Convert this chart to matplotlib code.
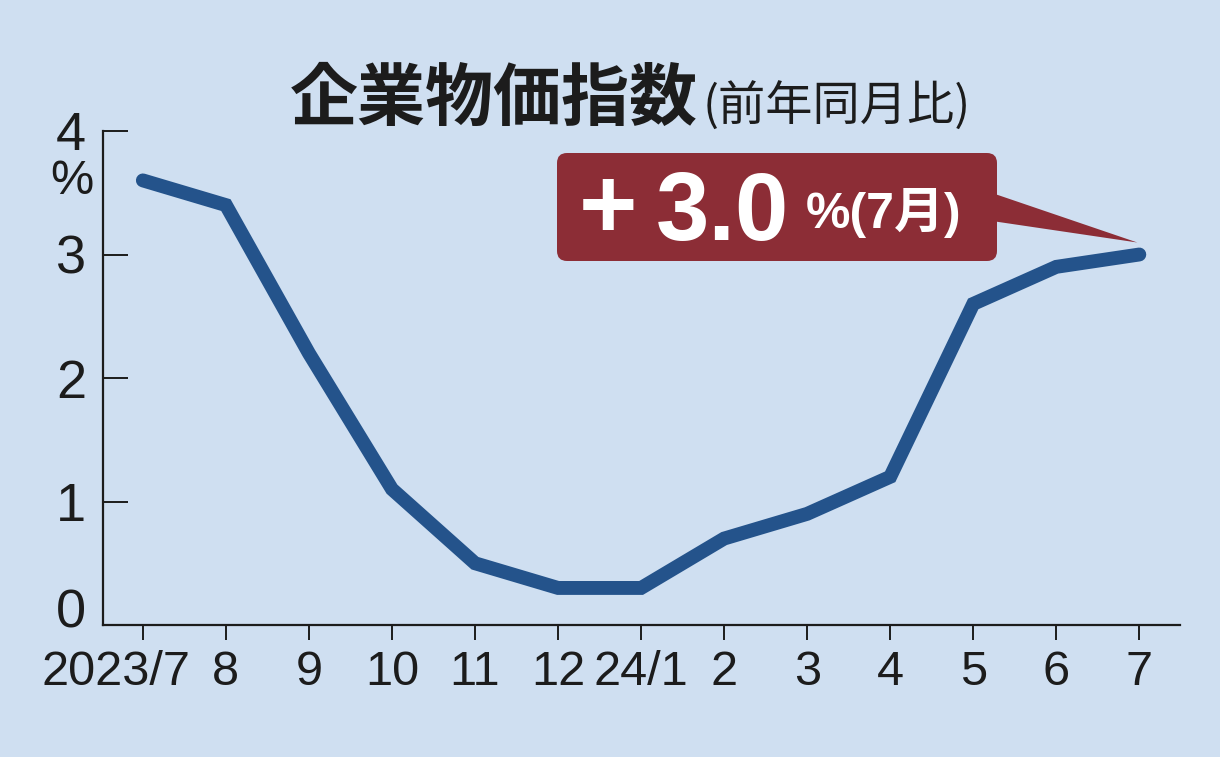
import matplotlib
matplotlib.use('Agg')
import matplotlib.pyplot as plt
from matplotlib.patches import FancyBboxPatch, Polygon
from matplotlib.transforms import IdentityTransform, ScaledTranslation

# 企業物価指数（前年同月比, %）
months = ['2023/7', '8', '9', '10', '11', '12', '24/1', '2', '3', '4', '5', '6', '7']
values = [3.6, 3.4, 2.2, 1.1, 0.5, 0.3, 0.3, 0.7, 0.9, 1.2, 2.6, 2.9, 3.0]
yticks = [0, 1, 2, 3, 4]
callout_sign = '+'
callout_value = '3.0'
callout_sub = '%(7月)'

BG = '#cfdff1'
LINE = '#24538b'
BOX = '#8c2d36'
INK = '#1c1c1c'

W, H = 1220, 757
plt.rcParams['font.family'] = ['Liberation Sans', 'Noto Sans CJK JP', 'DejaVu Sans']

fig = plt.figure(figsize=(W / 100, H / 100), dpi=100, facecolor=BG)
ax = fig.add_axes([103 / W, 132 / H, 1077 / W, 494 / H])
ax.set_facecolor(BG)

# 折れ線
x = list(range(len(values)))
ax.plot(x, values, color=LINE, lw=10, solid_capstyle='round',
        solid_joinstyle='miter', clip_on=False, zorder=3)

ax.set_xlim(-0.48, 12.49)
ax.set_ylim(0, 4)

for side in ['top', 'right']:
    ax.spines[side].set_visible(False)
for side in ['left', 'bottom']:
    ax.spines[side].set_color(INK)
    ax.spines[side].set_linewidth(1.6)

ax.set_xticks(x)
ax.set_xticklabels(months)
ax.set_yticks(yticks)
ax.set_yticklabels([str(v) for v in yticks])
ax.tick_params(axis='x', direction='out', length=11, width=1.4, color=INK,
               labelsize=35, labelcolor=INK, pad=7)
ax.tick_params(axis='y', direction='in', length=18, width=1.4, color=INK,
               labelsize=39, labelcolor=INK, pad=12)

# 単位
fig.text(72 / W, 1 - 182 / H, '%', fontsize=35, color=INK, ha='center', va='center')

# タイトル
fig.text(290 / W, 1 - 100 / H, '企業物価指数', fontsize=49, fontweight='bold',
         family=['Noto Sans CJK JP'], color=INK, ha='left', va='center')
fig.text(703 / W, 1 - 107 / H, '(前年同月比)', fontsize=34,
         family=['Noto Sans CJK JP'], color=INK, ha='left', va='center')

# 吹き出し
fig.canvas.draw()
tx, ty = ax.transData.transform((x[-1], values[-1]))
tip = (tx - 2, ty + 12)
box_l, box_r, box_t, box_b = 557, 997, H - 153, H - 261
fig.add_artist(Polygon([(box_r - 5, H - 193), tip, (box_r - 5, H - 221)],
                       closed=True, facecolor=BOX, edgecolor='none',
                       transform=IdentityTransform()))
fig.add_artist(FancyBboxPatch((box_l, box_b), box_r - box_l, box_t - box_b,
                              boxstyle='round,pad=0,rounding_size=10',
                              facecolor=BOX, edgecolor='none',
                              transform=IdentityTransform()))
fig.text(579 / W, 1 - 238 / H, callout_sign, fontsize=72, fontweight='bold',
         color='white', ha='left', va='baseline')
fig.text(656 / W, 1 - 240 / H, callout_value, fontsize=69, fontweight='bold',
         color='white', ha='left', va='baseline')
fig.text(806 / W, 1 - 228 / H, callout_sub, fontsize=36, fontweight='bold',
         color='white', ha='left', va='baseline')

# 目盛ラベルの位置調整（先頭の年表記は左寄せ気味、0 は少し上）
first = ax.get_xticklabels()[0]
first.set_transform(first.get_transform() +
                    ScaledTranslation(-0.27, 0, fig.dpi_scale_trans))
zero = ax.get_yticklabels()[0]
zero.set_transform(zero.get_transform() +
                   ScaledTranslation(0, 0.17, fig.dpi_scale_trans))

fig.savefig('out.png', dpi=100, facecolor=BG)
